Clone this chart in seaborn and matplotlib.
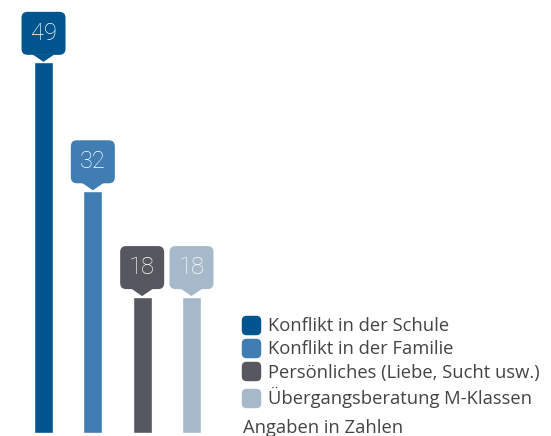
import matplotlib
matplotlib.use("Agg")
import matplotlib.pyplot as plt
import seaborn as sns
from matplotlib.patches import FancyBboxPatch, Polygon
from matplotlib.lines import Line2D
from matplotlib.patches import BoxStyle

categories = ["Konflikt in der Schule", "Konflikt in der Familie",
              "Persönliches (Liebe, Sucht usw.)", "Übergangsberatung M-Klassen"]
values = [49, 32, 18, 18]
colors = ["#00558F", "#3F7DB2", "#56575F", "#A6B9CA"]
note = "Angaben in Zahlen"

sns.set_style("white")
plt.rcParams["font.family"] = ["Open Sans", "DejaVu Sans"]

fig = plt.figure(figsize=(5.51, 4.36), dpi=100)
ax = fig.add_axes([0, 0, 1, 1])
sns.barplot(x=categories, y=values, hue=categories, palette=colors,
            width=0.385, legend=False, saturation=1, ax=ax)
ax.set_xlim(-0.882, 10.288)
ax.set_ylim(-0.45, 57.25)
ax.axis("off")

# label bubbles above bars (pixel units)
fig.canvas.draw()
for i, v in enumerate(values):
    cx, ty = ax.transData.transform((i, v))
    w, h, gap = 44, 43, 7.5
    box = FancyBboxPatch((cx - w / 2, ty + gap), w, h,
                         boxstyle="round,pad=0,rounding_size=6",
                         fc=colors[i], ec="none", transform=None)
    fig.patches.append(box)
    tri = Polygon([(cx - 11, ty + gap + 0.5), (cx + 11, ty + gap + 0.5), (cx, ty + 0.5)],
                  closed=True, fc=colors[i], ec="none", transform=None)
    fig.patches.append(tri)
    fig.text(cx / 551, (ty + gap + h / 2) / 436, str(v), color="white",
             fontsize=17, family="Roboto", fontweight="light",
             ha="center", va="center")

# rounded square marker for the legend
marker = BoxStyle.Round(pad=0, rounding_size=0.25)(-0.5, -0.5, 1, 1, 1.0)
handles = [Line2D([], [], marker=marker, linestyle="none", markersize=14,
                  markerfacecolor=c, markeredgecolor="none") for c in colors]
leg = fig.legend(handles, categories, loc="upper left",
                 bbox_to_anchor=(244 / 551, 1 - 317 / 436),
                 frameon=False, fontsize=13.2, handlelength=0.78,
                 handletextpad=0.55, labelspacing=0.29, borderaxespad=0,
                 borderpad=0)
for t in leg.get_texts():
    t.set_color("#444444")

fig.text(243 / 551, 1 - 432.5 / 436, note, fontsize=13.2, color="#444444",
         ha="left", va="baseline")

fig.savefig("out.png", dpi=100)
